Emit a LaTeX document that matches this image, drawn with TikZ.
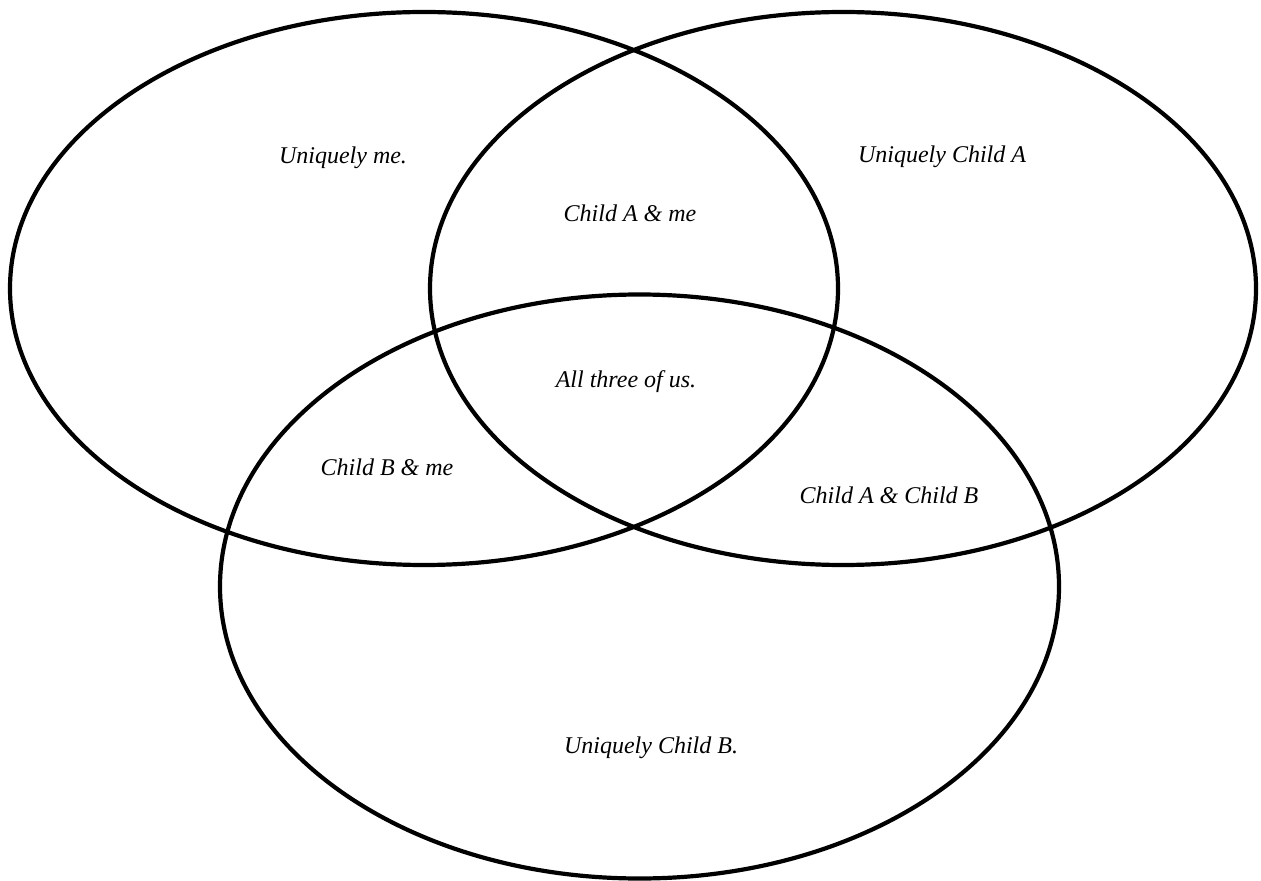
\documentclass[tikz,border=0pt]{standalone}
\usepackage{fontspec}
\setmainfont{Liberation Serif}
\usepackage{tikz}
\usetikzlibrary{shapes.geometric}

\begin{document}
\begin{tikzpicture}[x=0.5pt,y=-0.5pt]
\tikzstyle{set}=[ellipse, draw=black, line width=2.1pt, inner sep=0pt]
\tikzstyle{region}=[font=\itshape\fontsize{12}{14}\selectfont, inner sep=0pt]
\useasboundingbox (0,0) rectangle (1261,881);

  \node[set, minimum width=414pt, minimum height=276.5pt] (me) at (424,288.5) {};
  \node[set, minimum width=413pt, minimum height=276.5pt] (childA) at (843,288.5) {};
  \node[set, minimum width=419.5pt, minimum height=292pt] (childB) at (639.5,586.5) {};

  \node[region] (onlyme) at (343,158) {Uniquely me.};
  \node[region] (onlyA) at (942,157) {Uniquely Child A};
  \node[region] (Ame) at (630,213) {Child A \& me};
  \node[region] (all) at (626,382) {All three of us.};
  \node[region] (Bme) at (387,467) {Child B \& me};
  \node[region] (AB) at (889,495) {Child A \& Child B};
  \node[region] (onlyB) at (651,748) {Uniquely Child B.};
\end{tikzpicture}
\end{document}
